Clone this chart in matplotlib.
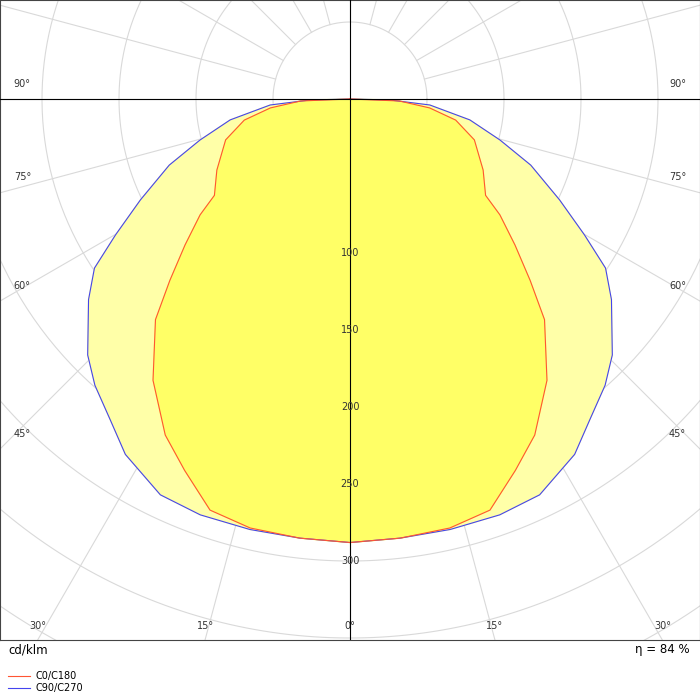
import numpy as np
import matplotlib
matplotlib.use('Agg')
from matplotlib import pyplot as plt

# intensity distribution, cd/klm, gamma angle in degrees (0 = straight down)
c0_angles = [0, 6.5, 13.1, 18.8, 24, 28.8, 35, 41.4, 44.8, 48.5, 52.3, 54.6, 61.9, 71.8, 78.7, 83.6, 87.7, 90]
c0_values = [288, 287, 286, 282, 264, 249, 223, 191, 166, 143, 123, 108, 98, 85, 70, 52, 32, 0]
c90_angles = [0, 6.5, 13.1, 19.8, 25.6, 32.3, 36.8, 41.7, 45.7, 52.5, 56.5, 59.9, 64.3, 69.9, 74.7, 80.1, 85.7, 88.6, 90]
c90_values = [288, 287, 287, 287, 285, 273, 260, 249, 238, 214, 199, 176, 151, 125, 101, 79, 52, 26, 0]
ring_labels = [100, 150, 200, 250, 300]
angle_labels = [0, 15, 30, 45, 60, 75, 90]
efficiency = 84

scale = 1.54  # px per cd/klm
xmax = 350 / scale
ymin, ymax = -541 / scale, 99 / scale


def to_xy(angles, values):
    a = np.radians(np.concatenate([-np.array(angles[::-1]), np.array(angles[1:])]))
    r = np.concatenate([np.array(values[::-1]), np.array(values[1:])])
    return r * np.sin(a), -r * np.cos(a)


fig = plt.figure(figsize=(7, 7), dpi=100)
ax = fig.add_axes([0, 60 / 700, 1, 640 / 700])
ax.set_xlim(-xmax, xmax)
ax.set_ylim(ymin, ymax)
ax.set_aspect('auto')
ax.set_xticks([])
ax.set_yticks([])
for s in ax.spines.values():
    s.set_color('#444444')

grid = '#d9d9d9'
t = np.linspace(0, 2 * np.pi, 400)
for r in range(50, 451, 50):
    ax.plot(r * np.cos(t), r * np.sin(t), color=grid, lw=0.8, zorder=1)
for a in range(0, 360, 15):
    ar = np.radians(a)
    ax.plot([50 * np.sin(ar), 500 * np.sin(ar)], [-50 * np.cos(ar), -500 * np.cos(ar)],
            color=grid, lw=0.8, zorder=1)

x, y = to_xy(c90_angles, c90_values)
ax.fill(x, y, color='#ffffa8', zorder=2)
ax.plot(x, y, color='#4444ee', lw=0.8, zorder=4)
x, y = to_xy(c0_angles, c0_values)
ax.fill(x, y, color='#ffff66', zorder=3)
ax.plot(x, y, color='#ff5533', lw=0.8, zorder=4)

ax.axhline(0, color='black', lw=0.8, zorder=5)
ax.axvline(0, color='black', lw=0.8, zorder=5)

for r in ring_labels:
    ax.text(0, -r, str(r), ha='center', va='center', fontsize=7, color='#333333', zorder=6)

for a in angle_labels:
    ar = np.radians(a)
    if a == 0:
        ax.text(0, ymin + 9, '0°', ha='center', va='center', fontsize=7, color='#333333')
        continue
    # where the spoke meets the frame, label set a little above it
    yl = -xmax / np.tan(ar)
    if yl >= ymin + 15:
        for sx, ha in [(-1, 'left'), (1, 'right')]:
            ax.text(sx * (xmax - 9), yl + 10, f'{a}°', ha=ha, va='center', fontsize=7, color='#333333')
    else:
        xb = abs(ymin * np.tan(ar))
        for sx in [-1, 1]:
            ax.text(sx * xb, ymin + 9, f'{a}°', ha='center', va='center', fontsize=7, color='#333333')

fig.text(8 / 700, 1 - 650 / 700, 'cd/klm', ha='left', va='center', fontsize=8.5)
fig.text(690 / 700, 1 - 650 / 700, f'η = {efficiency} %', ha='right', va='center', fontsize=8.5)
fig.lines.append(plt.Line2D([8 / 700, 30 / 700], [1 - 676 / 700] * 2, color='#ff5533', lw=0.8,
                            transform=fig.transFigure))
fig.lines.append(plt.Line2D([8 / 700, 30 / 700], [1 - 688 / 700] * 2, color='#4444ee', lw=0.8,
                            transform=fig.transFigure))
fig.text(36 / 700, 1 - 676 / 700, 'C0/C180', va='center', fontsize=7)
fig.text(36 / 700, 1 - 688 / 700, 'C90/C270', va='center', fontsize=7)

fig.savefig('out.png', dpi=100)
